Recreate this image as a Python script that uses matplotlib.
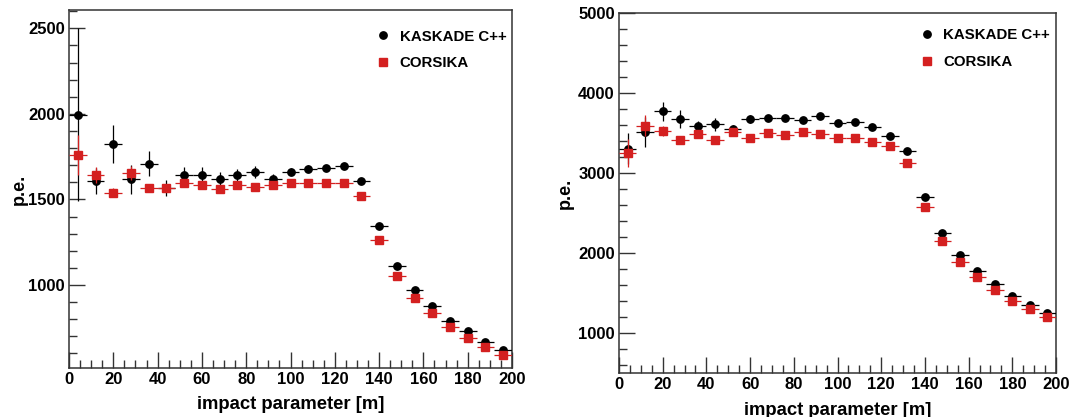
import matplotlib
matplotlib.use("Agg")
import matplotlib.pyplot as plt
import numpy as np
from matplotlib.ticker import MultipleLocator
from matplotlib.lines import Line2D

plt.rcParams['font.family'] = ['Liberation Sans', 'DejaVu Sans']
plt.rcParams['font.weight'] = 'bold'

# bin centres [m], bin width 8 m
impact = np.arange(4, 200, 8)
xerr = 4.0

# left panel
kaskade_l = [1996, 1607, 1825, 1617, 1710, 1566, 1640, 1640, 1620, 1642, 1660, 1617, 1663,
             1679, 1683, 1696, 1607, 1344, 1109, 973, 877, 792, 729, 669, 621]
kaskade_l_err = [508, 78, 110, 85, 73, 45, 48, 48, 40, 35, 35, 30, 20,
                 20, 15, 15, 12, 12, 10, 8, 8, 8, 8, 8, 8]
corsika_l = [1759, 1644, 1539, 1654, 1566, 1566, 1595, 1586, 1562, 1586, 1574, 1586, 1595,
             1599, 1599, 1597, 1521, 1265, 1054, 926, 835, 755, 691, 638, 589]
corsika_l_err = [117, 48, 25, 40, 15, 15, 15, 12, 12, 12, 12, 10, 10,
                 10, 10, 10, 10, 10, 8, 8, 8, 8, 8, 8, 8]

# right panel
kaskade_r = [3308, 3517, 3775, 3679, 3588, 3612, 3558, 3679, 3688, 3688, 3663, 3717, 3625,
             3642, 3579, 3463, 3279, 2700, 2246, 1971, 1779, 1608, 1467, 1350, 1246]
kaskade_r_err = [190, 187, 120, 110, 60, 80, 40, 50, 40, 40, 30, 30, 25,
                 25, 25, 20, 20, 20, 15, 15, 15, 15, 15, 15, 15]
corsika_r = [3254, 3596, 3529, 3421, 3487, 3421, 3512, 3446, 3504, 3475, 3512, 3492, 3442,
             3446, 3396, 3338, 3125, 2575, 2146, 1892, 1700, 1542, 1404, 1300, 1196]
corsika_r_err = [180, 130, 60, 40, 40, 30, 25, 25, 25, 25, 25, 20, 20,
                 20, 20, 20, 20, 20, 15, 15, 15, 15, 15, 15, 15]

red = '#d42020'
fig = plt.figure(figsize=(10.72, 4.17), dpi=100)
ax1 = fig.add_axes([0.0644, 0.1175, 0.4132, 0.8585])
ax2 = fig.add_axes([0.5774, 0.1063, 0.4077, 0.8617])


def draw(ax, ks, kerr, cs, cerr, ylim, ymajor, ylab_x, xlab_xy, leg_xy):
    ax.errorbar(impact, ks, yerr=kerr, xerr=xerr, fmt='o', color='black', ms=5.3,
                elinewidth=0.9, capsize=0, zorder=3)
    ax.errorbar(impact, cs, yerr=cerr, xerr=xerr, fmt='s', color=red, ms=5.3,
                elinewidth=0.9, capsize=0, zorder=4)
    ax.set_xlim(0, 200)
    ax.set_ylim(*ylim)
    ax.xaxis.set_major_locator(MultipleLocator(20))
    ax.xaxis.set_minor_locator(MultipleLocator(5))
    ax.yaxis.set_major_locator(MultipleLocator(ymajor))
    ax.yaxis.set_minor_locator(MultipleLocator(ymajor / 5))
    ax.tick_params(which='both', direction='in', top=False, right=False,
                   labelsize=12, color='#333333')
    ax.tick_params(which='major', length=11.5, width=1)
    ax.tick_params(which='minor', length=6, width=1)
    ax.tick_params(axis='x', pad=3)
    ax.tick_params(axis='y', pad=3)
    for s in ax.spines.values():
        s.set_color('#333333')
        s.set_linewidth(1.1)
    ax.set_ylabel('p.e.', fontsize=13, fontweight='bold')
    ax.yaxis.set_label_coords(ylab_x, 0.5)
    ax.set_xlabel('impact parameter [m]', fontsize=13.3, fontweight='bold')
    ax.xaxis.set_label_coords(*xlab_xy)
    ax.xaxis.label.set_ha('right')
    ax.xaxis.label.set_va('baseline')
    handles = [Line2D([], [], ls='none', marker='o', color='black', ms=5.3),
               Line2D([], [], ls='none', marker='s', color=red, ms=5.3)]
    ax.legend(handles, ['KASKADE C++', 'CORSIKA'], loc='upper left', bbox_to_anchor=leg_xy,
              frameon=False, fontsize=10.8, handlelength=1.0, handletextpad=0.6,
              labelspacing=0.85, borderpad=0, borderaxespad=0)


draw(ax1, kaskade_l, kaskade_l_err, corsika_l, corsika_l_err, (515, 2607), 500,
     -0.092, (0.711, -0.1145), (0.692, 0.945))
draw(ax2, kaskade_r, kaskade_r_err, corsika_r, corsika_r_err, (504, 5000), 1000,
     -0.103, (0.7156, -0.1177), (0.687, 0.958))

fig.savefig('out.png', dpi=100)
